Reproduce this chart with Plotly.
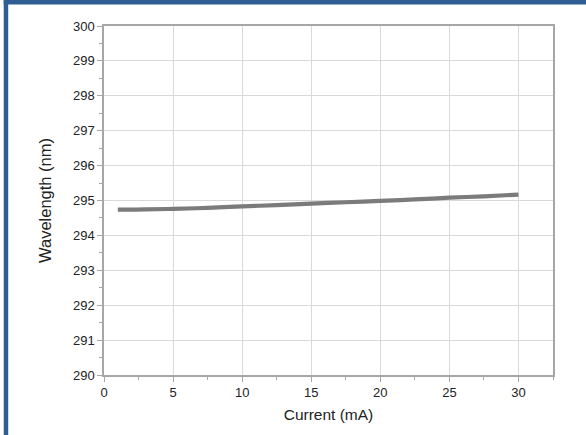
import plotly.graph_objects as go

current_ma = [1, 2, 3, 5, 7.5, 10, 12.5, 15, 17.5, 20, 22.5, 25, 27.5, 30]
wavelength_nm = [294.74, 294.74, 294.745, 294.76, 294.79, 294.83, 294.87, 294.91, 294.95, 294.99, 295.03, 295.08, 295.12, 295.17]

x_ticks = [0, 5, 10, 15, 20, 25, 30]
y_ticks = [290, 291, 292, 293, 294, 295, 296, 297, 298, 299, 300]

L, R, T, B = 103.5, 32.5, 25.5, 60
W, H = 586, 435
pw, ph = W - L - R, H - T - B

def px(x):
    return (x - L) / pw

def py(y):
    return (H - B - y) / ph

fig = go.Figure()
fig.add_trace(go.Scatter(
    x=current_ma, y=wavelength_nm, mode="lines",
    line=dict(color="#7b7b7b", width=4.2, shape="spline"),
    showlegend=False, hoverinfo="skip"))

axis_common = dict(
    showline=True, linecolor="#a6a6a6", linewidth=1.5, mirror=True,
    showgrid=True, gridcolor="#d9d9d9", gridwidth=1,
    ticks="outside", ticklen=5, tickcolor="#a6a6a6", tickwidth=1,
    tickfont=dict(family="Liberation Sans, Arial", size=13, color="#222222"),
    zeroline=False,
)

fig.update_layout(
    width=W, height=H,
    margin=dict(l=L, r=R, t=T, b=B),
    paper_bgcolor="white", plot_bgcolor="white",
    xaxis=dict(range=[0, 32.5], tickvals=x_ticks, ticktext=[str(v) for v in x_ticks],
               minor=dict(dtick=2.5, tick0=0, ticks="outside", ticklen=3, tickcolor="#a6a6a6", showgrid=False),
               title=dict(text="Current (mA)", standoff=10,
                          font=dict(family="Liberation Sans, Arial", size=15.5, color="#222222")),
               **axis_common),
    yaxis=dict(range=[290, 300], tickvals=y_ticks, ticktext=[str(v) for v in y_ticks],
               minor=dict(dtick=0.5, tick0=290, ticks="outside", ticklen=3, tickcolor="#a6a6a6", showgrid=False),
               title=dict(text="Wavelength (nm)", standoff=17,
                          font=dict(family="Liberation Sans, Arial", size=16.5, color="#222222")),
               **axis_common),
)

blue = "#2f5e93"
fig.add_shape(type="rect", xref="paper", yref="paper",
              x0=px(3), x1=px(7.5), y0=py(H + 5), y1=py(-5),
              fillcolor=blue, line=dict(width=0), layer="above")
fig.add_shape(type="rect", xref="paper", yref="paper",
              x0=px(3), x1=px(W + 5), y0=py(4), y1=py(-5),
              fillcolor=blue, line=dict(width=0), layer="above")

fig.write_html("out.html", config={"displayModeBar": False},
               post_script="document.body.style.margin='0';document.body.style.overflow='hidden';")
